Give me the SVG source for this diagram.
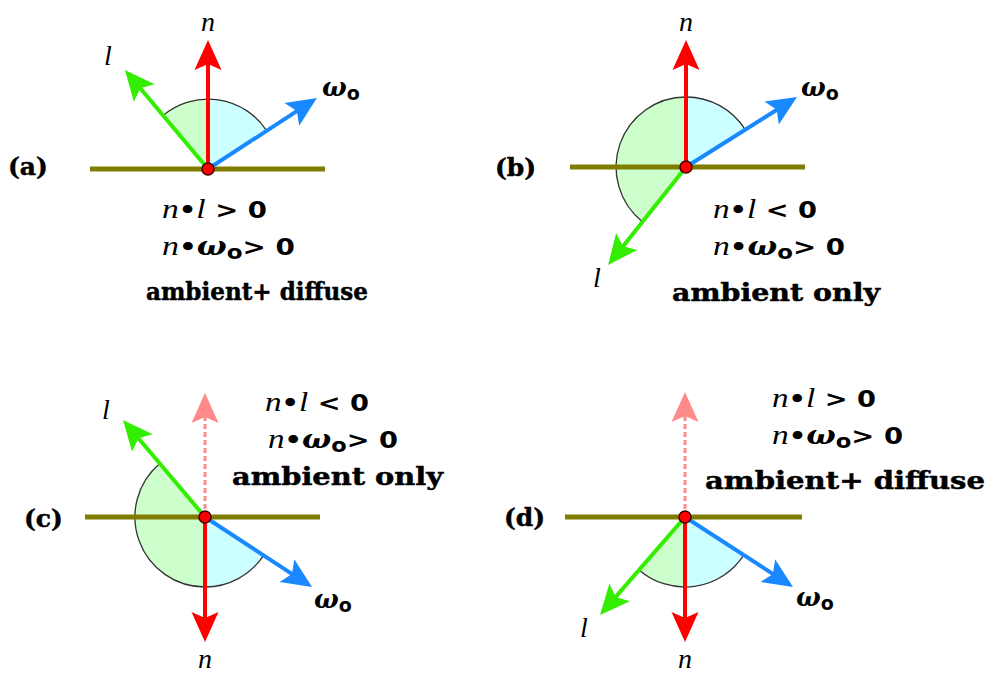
<svg xmlns="http://www.w3.org/2000/svg" width="989" height="678" viewBox="0 0 989 678">
<style>
.surf{stroke:#807c00;stroke-width:5;fill:none}
.wg{fill:#ccffcc;stroke:none}
.wb{fill:#ccffff;stroke:none}
.arc{fill:none;stroke:#333;stroke-width:1.3}
.red{stroke:#ff0000;stroke-width:4;fill:none;marker-end:url(#hr)}
.pink{stroke:#ff8a8a;stroke-width:3;fill:none;stroke-dasharray:5 3;marker-end:url(#hp)}
.grn{stroke:#33ee00;stroke-width:4;fill:none;marker-end:url(#hg)}
.blu{stroke:#1a88ff;stroke-width:4;fill:none;marker-end:url(#hb)}
.dot{fill:#ff0000;stroke:#400000;stroke-width:1.5}
.lab{font-family:"Liberation Serif",serif;font-style:italic;font-size:28px;fill:#000}
.om{font-family:"DejaVu Serif",serif;font-style:italic;font-weight:bold;font-size:26px;fill:#000}
.sub{font-family:"DejaVu Sans",sans-serif;font-style:normal;font-weight:bold;font-size:19px}
.math{font-family:"DejaVu Sans",sans-serif;font-weight:bold;font-size:23px;fill:#000}
.it{font-family:"Liberation Serif",serif;font-style:italic;font-weight:normal;font-size:28px}
.bold{font-family:"DejaVu Serif",serif;font-weight:bold;font-size:25px;fill:#000;stroke:#000;stroke-width:0.5}
</style>
<defs>
<marker id="hr" markerUnits="userSpaceOnUse" viewBox="0 0 32 30" markerWidth="32" markerHeight="30" refX="10" refY="15" orient="auto"><path d="M30,15 L0,1.5 L6,15 L0,28.5 Z" fill="#ff0000"/></marker>
<marker id="hp" markerUnits="userSpaceOnUse" viewBox="0 0 32 30" markerWidth="32" markerHeight="30" refX="10" refY="15" orient="auto"><path d="M30,15 L0,1.5 L6,15 L0,28.5 Z" fill="#ff8a8a"/></marker>
<marker id="hg" markerUnits="userSpaceOnUse" viewBox="0 0 32 30" markerWidth="32" markerHeight="30" refX="10" refY="15" orient="auto"><path d="M30,15 L0,1.5 L6,15 L0,28.5 Z" fill="#33ee00"/></marker>
<marker id="hb" markerUnits="userSpaceOnUse" viewBox="0 0 32 30" markerWidth="32" markerHeight="30" refX="10" refY="15" orient="auto"><path d="M30,15 L0,1.5 L6,15 L0,28.5 Z" fill="#1a88ff"/></marker>
</defs>
<rect width="989" height="678" fill="#fff"/>

<g id="panel-a">
<path class="wg" d="M208,169 L163.1,115.4 A70,70 0 0,1 208,99 Z"/>
<path class="wb" d="M208,169 L208,99 A70,70 0 0,1 266.7,130.8 Z"/>
<path class="arc" d="M163.1,115.4 A70,70 0 0,1 266.7,130.8"/>
<line class="surf" x1="90" y1="169" x2="325" y2="169"/>
<g id="conn-a">
<path class="red" d="M208,169 L208,60"/>
<path class="grn" d="M208,169 L137.8,85.3"/>
<path class="blu" d="M208,169 L300.2,108.9"/>
</g>
<circle class="dot" cx="208" cy="169" r="6"/>
<text class="lab" x="208" y="31" text-anchor="middle">n</text>
<text class="lab" x="104" y="65">l</text>
<text class="om" x="322" y="96">ω<tspan class="sub" dy="4">o</tspan></text>
<text class="bold" x="8" y="175">(a)</text>
<text class="math" x="162" y="218" textLength="105" lengthAdjust="spacingAndGlyphs"><tspan class="it">n</tspan>•<tspan class="it">l</tspan> &gt; 0</text>
<text class="math" x="162" y="255" textLength="133" lengthAdjust="spacingAndGlyphs"><tspan class="it">n</tspan>•<tspan class="om">ω</tspan><tspan class="sub" dy="4">o</tspan><tspan dy="-4">&gt; 0</tspan></text>
<text class="bold" x="146" y="300" textLength="222" lengthAdjust="spacingAndGlyphs">ambient+ diffuse</text>
</g>

<g id="panel-b">
<path class="wg" d="M686,167 L642.4,221.7 A70,70 0 0,1 686,97 Z"/>
<path class="wb" d="M686,167 L686,97 A70,70 0 0,1 745.2,129.6 Z"/>
<path class="arc" d="M642.4,221.7 A70,70 0 0,1 686,97 A70,70 0 0,1 745.2,129.6"/>
<line class="surf" x1="570" y1="167" x2="805" y2="167"/>
<g id="conn-b">
<path class="red" d="M686,167 L686,60"/>
<path class="blu" d="M686,167 L780.1,107.7"/>
<path class="grn" d="M686,167 L620.5,249.4"/>
</g>
<circle class="dot" cx="686" cy="167" r="6"/>
<text class="lab" x="686" y="31" text-anchor="middle">n</text>
<text class="lab" x="593" y="287">l</text>
<text class="om" x="801" y="96">ω<tspan class="sub" dy="4">o</tspan></text>
<text class="bold" x="495" y="176">(b)</text>
<text class="math" x="713" y="218" textLength="104" lengthAdjust="spacingAndGlyphs"><tspan class="it">n</tspan>•<tspan class="it">l</tspan> &lt; 0</text>
<text class="math" x="713" y="255" textLength="132" lengthAdjust="spacingAndGlyphs"><tspan class="it">n</tspan>•<tspan class="om">ω</tspan><tspan class="sub" dy="4">o</tspan><tspan dy="-4">&gt; 0</tspan></text>
<text class="bold" x="672" y="301" textLength="208" lengthAdjust="spacingAndGlyphs">ambient only</text>
</g>

<g id="panel-c">
<path class="wg" d="M205,517 L159.8,463.5 A70,70 0 0,0 205,587 Z"/>
<path class="wb" d="M205,517 L205,587 A70,70 0 0,0 263.6,555.3 Z"/>
<path class="arc" d="M159.8,463.5 A70,70 0 0,0 205,587 A70,70 0 0,0 263.6,555.3"/>
<line class="surf" x1="85" y1="517" x2="320" y2="517"/>
<g id="conn-c">
<path class="pink" d="M205,517 L205,413"/>
<path class="red" d="M205,517 L205,622"/>
<path class="grn" d="M205,517 L135.9,435.3"/>
<path class="blu" d="M205,517 L295.3,576.1"/>
</g>
<circle class="dot" cx="205" cy="517" r="6"/>
<text class="lab" x="205" y="668" text-anchor="middle">n</text>
<text class="lab" x="102" y="419">l</text>
<text class="om" x="314" y="608">ω<tspan class="sub" dy="4">o</tspan></text>
<text class="bold" x="24" y="527">(c)</text>
<text class="math" x="265" y="411" textLength="104" lengthAdjust="spacingAndGlyphs"><tspan class="it">n</tspan>•<tspan class="it">l</tspan> &lt; 0</text>
<text class="math" x="268" y="448" textLength="130" lengthAdjust="spacingAndGlyphs"><tspan class="it">n</tspan>•<tspan class="om">ω</tspan><tspan class="sub" dy="4">o</tspan><tspan dy="-4">&gt; 0</tspan></text>
<text class="bold" x="232" y="485" textLength="211" lengthAdjust="spacingAndGlyphs">ambient only</text>
</g>

<g id="panel-d">
<path class="wg" d="M685,517 L685,587 A70,70 0 0,1 639.1,569.9 Z"/>
<path class="wb" d="M685,517 L743.7,555.1 A70,70 0 0,1 685,587 Z"/>
<path class="arc" d="M743.7,555.1 A70,70 0 0,1 639.1,569.9"/>
<line class="surf" x1="565" y1="517" x2="802" y2="517"/>
<g id="conn-d">
<path class="pink" d="M685,517 L685,412"/>
<path class="red" d="M685,517 L685,622"/>
<path class="grn" d="M685,517 L613.1,599.9"/>
<path class="blu" d="M685,517 L776.2,576.1"/>
</g>
<circle class="dot" cx="685" cy="517" r="6"/>
<text class="lab" x="685" y="668" text-anchor="middle">n</text>
<text class="lab" x="580" y="637">l</text>
<text class="om" x="796" y="606">ω<tspan class="sub" dy="4">o</tspan></text>
<text class="bold" x="504" y="526">(d)</text>
<text class="math" x="772" y="407" textLength="104" lengthAdjust="spacingAndGlyphs"><tspan class="it">n</tspan>•<tspan class="it">l</tspan> &gt; 0</text>
<text class="math" x="772" y="444" textLength="131" lengthAdjust="spacingAndGlyphs"><tspan class="it">n</tspan>•<tspan class="om">ω</tspan><tspan class="sub" dy="4">o</tspan><tspan dy="-4">&gt; 0</tspan></text>
<text class="bold" x="705" y="489" textLength="280" lengthAdjust="spacingAndGlyphs">ambient+ diffuse</text>
</g>
</svg>
